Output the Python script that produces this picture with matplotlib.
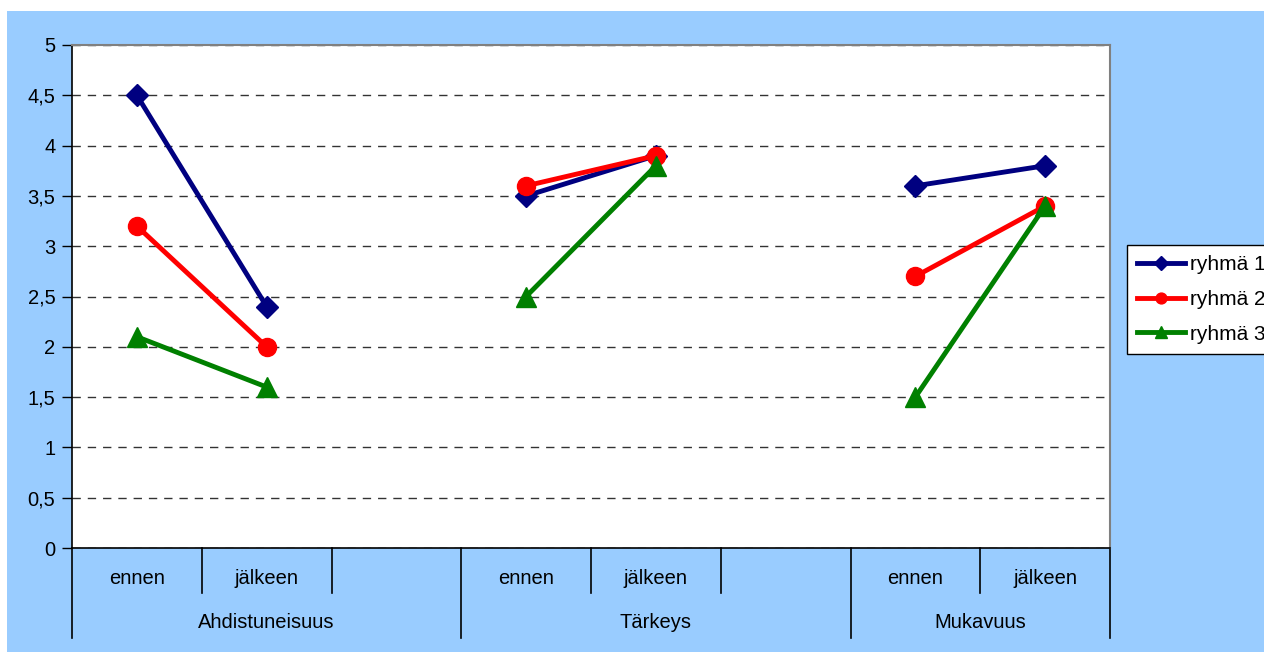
import matplotlib.pyplot as plt
import numpy as np
from matplotlib.patches import Rectangle
from matplotlib.ticker import FuncFormatter

plt.rcParams["font.family"] = ["Liberation Sans", "DejaVu Sans"]

# Data
categories = ["ennen", "jälkeen", "", "ennen", "jälkeen", "", "ennen", "jälkeen"]
groups = ["Ahdistuneisuus", "Tärkeys", "Mukavuus"]
group_spans = [(0, 3), (3, 6), (6, 8)]
series_names = ["ryhmä 1", "ryhmä 2", "ryhmä 3"]
ryhma1 = [4.5, 2.4, np.nan, 3.5, 3.9, np.nan, 3.6, 3.8]
ryhma2 = [3.2, 2.0, np.nan, 3.6, 3.9, np.nan, 2.7, 3.4]
ryhma3 = [2.1, 1.6, np.nan, 2.5, 3.8, np.nan, 1.5, 3.4]

colors = ["#000080", "#FF0000", "#008000"]
markers = ["D", "o", "^"]
msizes = [11.5, 13, 14]

W, H = 1264, 652
fig = plt.figure(figsize=(W / 100, H / 100), dpi=100, facecolor="white")
fig.patches.append(Rectangle((7 / W, 0), 1, 1 - 11 / H, transform=fig.transFigure,
                             facecolor="#99CCFF", edgecolor="none", zorder=-10))

left, right, top, bottom = 72, 1110, 45, 548
ax = fig.add_axes([left / W, 1 - bottom / H, (right - left) / W, (bottom - top) / H])
ax.set_facecolor("white")

x = np.arange(len(categories)) + 0.5
for vals, name, c, m, ms in zip([ryhma1, ryhma2, ryhma3], series_names, colors, markers, msizes):
    ax.plot(x, vals, color=c, marker=m, markersize=ms, linewidth=3.5, label=name, zorder=3)

ax.set_xlim(0, len(categories))
ax.set_ylim(0, 5)
ax.set_yticks(np.arange(0, 5.01, 0.5))
ax.yaxis.set_major_formatter(FuncFormatter(lambda v, p: f"{v:g}".replace(".", ",")))
ax.tick_params(axis="y", direction="out", length=7, width=1, labelsize=14.5, pad=5)
ax.set_xticks([])
ax.grid(axis="y", color="#333333", linestyle=(0, (6, 5)), linewidth=1, zorder=1)

for side in ["top", "right"]:
    ax.spines[side].set_color("#808080")
    ax.spines[side].set_linewidth(1.5)
for side in ["left", "bottom"]:
    ax.spines[side].set_color("black")
    ax.spines[side].set_linewidth(1.2)

# Multi-level category axis
trans = ax.get_xaxis_transform()
h = bottom - top
lvl1 = -45 / h
lvl2 = -90 / h
for b in range(len(categories) + 1):
    is_group_edge = any(b == s or b == e for s, e in group_spans)
    ax.plot([b, b], [0, lvl2 if is_group_edge else lvl1], color="black",
            linewidth=1.2, transform=trans, clip_on=False)
for xi, lab in zip(x, categories):
    ax.text(xi, -30 / h, lab, transform=trans, ha="center", va="center", fontsize=14.5)
for (s, e), g in zip(group_spans, groups):
    ax.text((s + e) / 2, -74 / h, g, transform=trans,
            ha="center", va="center", fontsize=14.5)

leg = fig.legend(loc="upper left", bbox_to_anchor=(1127 / W, 1 - 245 / H),
                 fontsize=15, frameon=True, fancybox=False, framealpha=1,
                 edgecolor="black", markerscale=0.6, handlelength=2.3,
                 handletextpad=0.2, labelspacing=0.75, borderpad=0.5,
                 borderaxespad=0)
leg.get_frame().set_linewidth(1)

fig.savefig("out.png", dpi=100, facecolor=fig.get_facecolor())
